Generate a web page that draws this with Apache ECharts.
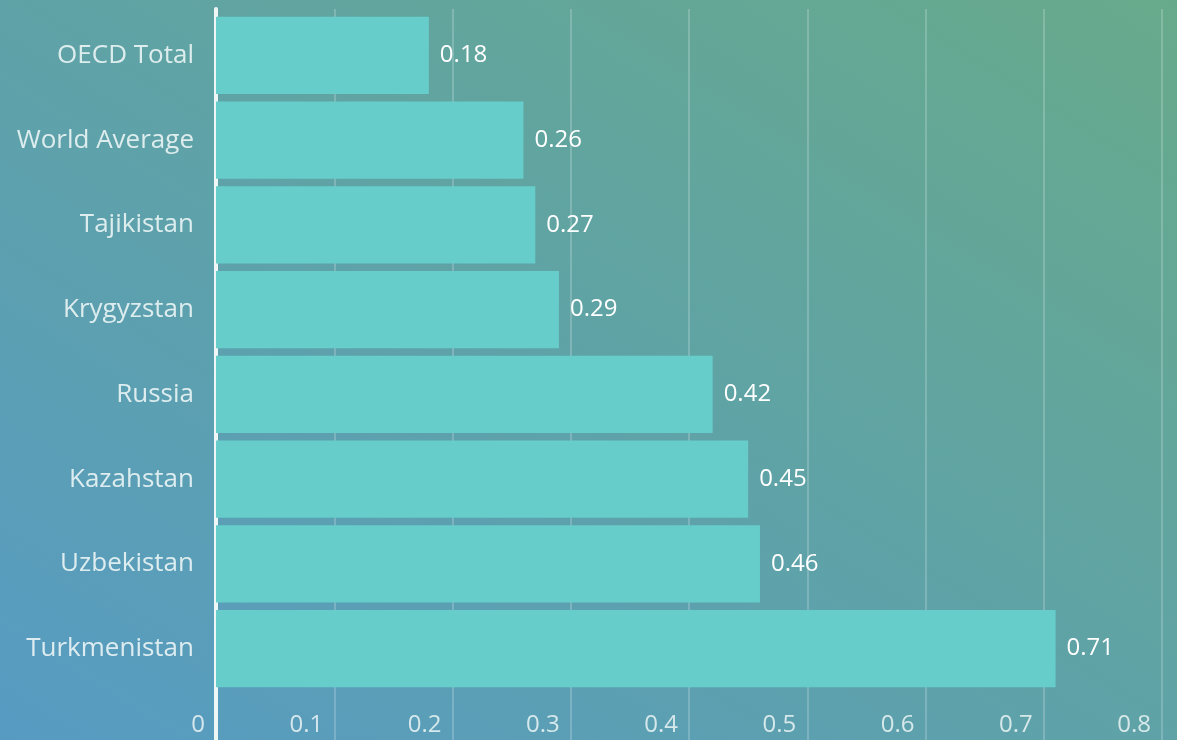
<!DOCTYPE html>
<html><head><meta charset="utf-8">
<script src="https://cdn.jsdelivr.net/npm/echarts@6/dist/echarts.min.js"></script>
<style>html,body{margin:0;padding:0;}#c{width:1177px;height:740px;background:linear-gradient(to top right,#579bc3,#67aa8b);}</style>
</head><body><div id="c"></div>
<script>
const categories = ["OECD Total","World Average","Tajikistan","Krygyzstan","Russia","Kazahstan","Uzbekistan","Turkmenistan"];
const values = [0.18,0.26,0.27,0.29,0.42,0.45,0.46,0.71];
const xTicks = [0,0.1,0.2,0.3,0.4,0.5,0.6,0.7,0.8];
const font = 'Open Sans';
const chart = echarts.init(document.getElementById('c'));
chart.setOption({
  backgroundColor: 'transparent',
  animation: false,
  grid: [
    {left: 216, right: 15, top: 13, bottom: 49},
    {left: 216, right: 15, top: 9, bottom: 0}
  ],
  xAxis: [
    {gridIndex: 0, type: 'value', min: 0, max: 0.8, interval: 0.1,
     axisLine: {show: false}, axisTick: {show: false}, splitLine: {show: false},
     axisLabel: {color: 'rgba(235,245,245,0.85)', fontFamily: font, fontSize: 24, margin: 22,
       align: 'right', padding: [0, 11, 0, 0],
       formatter: v => { const t = xTicks.find(x => Math.abs(x - v) < 1e-9); return t === undefined ? '' : String(t); }}},
    {gridIndex: 1, type: 'value', min: 0, max: 0.8, interval: 0.1,
     axisLine: {show: false}, axisTick: {show: false}, axisLabel: {show: false},
     splitLine: {show: true, lineStyle: {color: 'rgba(255,255,255,0.2)', width: 2}}}
  ],
  yAxis: [
    {gridIndex: 0, type: 'category', data: categories, inverse: true,
     axisLine: {show: false}, axisTick: {show: false},
     axisLabel: {color: 'rgba(235,245,245,0.9)', fontFamily: font, fontSize: 26, margin: 22, padding: [10, 0, 0, 0]}},
    {gridIndex: 1, type: 'value', min: 0, max: 1,
     axisLine: {show: true, lineStyle: {color: '#eef6f6', width: 4}}, axisTick: {show: false},
     axisLabel: {show: false}, splitLine: {show: false}}
  ],
  series: [{
    type: 'bar', xAxisIndex: 0, yAxisIndex: 0, data: values,
    barCategoryGap: '9%',
    itemStyle: {color: '#66cdca'},
    label: {show: true, position: 'right', distance: 11, color: '#ffffff', fontFamily: font, fontSize: 24, padding: [8, 0, 0, 0]}
  }]
});
</script></body></html>
